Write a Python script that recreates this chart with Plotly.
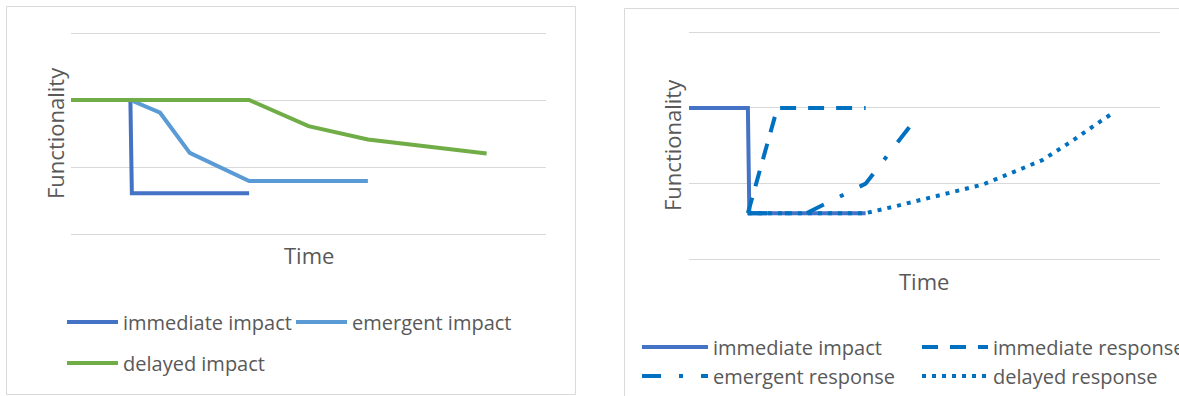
import plotly.graph_objects as go

W, H = 1179, 396

# ---------------- data ----------------
# left panel: impact types
imm_impact_x_left = [2, 2.05, 6]
imm_impact_y_left = [2, 0.61, 0.61]
emg_impact_x = [2, 3, 4, 6, 10]
emg_impact_y = [2, 1.81, 1.21, 0.79, 0.79]
del_impact_x = [0, 6, 8, 10, 14]
del_impact_y = [2, 2, 1.61, 1.41, 1.2]

# right panel: impact + response types
imm_impact_x = [0, 2, 2.05, 6]
imm_impact_y = [2, 2, 0.61, 0.61]
imm_resp_x = [2, 3, 6]
imm_resp_y = [0.61, 2, 2]
emg_resp_x = [2, 4, 6, 7.75]
emg_resp_y = [0.61, 0.61, 1.0, 1.88]
del_resp_x = [2, 6, 7, 8, 10, 12, 13, 14, 14.35]
del_resp_y = [0.61, 0.61, 0.70, 0.80, 0.99, 1.31, 1.56, 1.83, 1.92]

grid_vals = [0, 1, 2, 3]

# ---------------- style ----------------
FONT = "Open Sans"
GREY = "#595959"
GRID = "#D9D9D9"
C_DARK = "#4472C4"
C_LIGHT = "#5B9BD5"
C_GREEN = "#70AD47"
C_RESP = "#0070C0"
LW = 4
FS_LEG = 20
FS_TITLE = 22
PAD = 0.03  # small range padding so edge gridlines are kept


def px(x):
    return x / W


def py(y):
    return 1 - y / H


fig = go.Figure()

# left panel
fig.add_trace(go.Scatter(x=imm_impact_x_left, y=imm_impact_y_left, mode="lines", name="immediate impact",
                         line=dict(color=C_DARK, width=LW), xaxis="x", yaxis="y", legend="legend"))
fig.add_trace(go.Scatter(x=emg_impact_x, y=emg_impact_y, mode="lines", name="emergent impact",
                         line=dict(color=C_LIGHT, width=LW), xaxis="x", yaxis="y", legend="legend"))
fig.add_trace(go.Scatter(x=del_impact_x, y=del_impact_y, mode="lines", name="delayed impact",
                         line=dict(color=C_GREEN, width=LW), xaxis="x", yaxis="y", legend="legend2"))

# right panel
fig.add_trace(go.Scatter(x=imm_impact_x, y=imm_impact_y, mode="lines", name="immediate impact",
                         line=dict(color=C_DARK, width=LW), xaxis="x2", yaxis="y2", legend="legend3"))
fig.add_trace(go.Scatter(x=imm_resp_x, y=imm_resp_y, mode="lines", name="immediate response",
                         line=dict(color=C_RESP, width=LW, dash="16px,12px"), xaxis="x2", yaxis="y2",
                         legend="legend3"))
fig.add_trace(go.Scatter(x=emg_resp_x, y=emg_resp_y, mode="lines", name="emergent response",
                         line=dict(color=C_RESP, width=LW, dash="19px,18px,4px,18px"), xaxis="x2", yaxis="y2",
                         legend="legend4"))
fig.add_trace(go.Scatter(x=del_resp_x, y=del_resp_y, mode="lines", name="delayed response",
                         line=dict(color=C_RESP, width=LW, dash="4px,6px"), xaxis="x2", yaxis="y2",
                         legend="legend4"))

ax_common = dict(showgrid=False, zeroline=False, showline=False, showticklabels=False,
                 ticks="", fixedrange=True, range=[0, 16])
ay_common = dict(showgrid=True, gridcolor=GRID, gridwidth=1, zeroline=False, showline=False,
                 showticklabels=False, ticks="", fixedrange=True, range=[-PAD, 3 + PAD],
                 tickmode="array", tickvals=grid_vals)

legend_font = dict(family=FONT, size=FS_LEG, color=GREY)


def leg(text_x, row_y, spacing, itemw):
    textgap = itemw + 10
    return dict(orientation="h", x=px(text_x - textgap), xanchor="left",
                y=py(row_y), yanchor="middle", font=legend_font, itemwidth=itemw,
                entrywidth=spacing - textgap - 5, entrywidthmode="pixels", bgcolor="rgba(0,0,0,0)",
                borderwidth=0, itemclick=False, itemdoubleclick=False, traceorder="normal")


# plot-area pixel extents (gridline 0 and 3 positions, padded)
L_top, L_bot = 33, 234
R_top, R_bot = 32.3, 259.3
L_pad = PAD * (L_bot - L_top) / 3
R_pad = PAD * (R_bot - R_top) / 3

fig.update_layout(
    width=W, height=H,
    margin=dict(l=0, r=0, t=0, b=0, autoexpand=False),
    paper_bgcolor="white", plot_bgcolor="white",
    font=dict(family=FONT, size=FS_LEG, color=GREY),
    xaxis=dict(domain=[px(71), px(546)], anchor="y", **ax_common),
    yaxis=dict(domain=[py(L_bot + L_pad), py(L_top - L_pad)], anchor="x", **ay_common),
    xaxis2=dict(domain=[px(689), px(1160)], anchor="y2", **ax_common),
    yaxis2=dict(domain=[py(R_bot + R_pad), py(R_top - R_pad)], anchor="x2", **ay_common),
    legend=leg(123, 322, 229, 51),
    legend2=leg(123, 363, 229, 51),
    legend3=leg(713, 347, 280, 66),
    legend4=leg(713, 376, 280, 66),
    showlegend=True,
    shapes=[
        dict(type="rect", xref="paper", yref="paper", x0=px(6.5), x1=px(575.5), y0=py(394.5), y1=py(6.5),
             line=dict(color=GRID, width=1), fillcolor="rgba(0,0,0,0)", layer="below"),
        dict(type="rect", xref="paper", yref="paper", x0=px(624.5), x1=px(1190), y0=py(410), y1=py(8.5),
             line=dict(color=GRID, width=1), fillcolor="rgba(0,0,0,0)", layer="below"),
    ],
    annotations=[
        dict(text="Functionality", xref="paper", yref="paper", x=px(55), y=py(133), textangle=-90,
             showarrow=False, xanchor="center", yanchor="middle",
             font=dict(family=FONT, size=FS_TITLE, color=GREY)),
        dict(text="Time", xref="paper", yref="paper", x=px(309), y=py(255),
             showarrow=False, xanchor="center", yanchor="middle",
             font=dict(family=FONT, size=FS_TITLE, color=GREY)),
        dict(text="Functionality", xref="paper", yref="paper", x=px(672), y=py(145), textangle=-90,
             showarrow=False, xanchor="center", yanchor="middle",
             font=dict(family=FONT, size=FS_TITLE, color=GREY)),
        dict(text="Time", xref="paper", yref="paper", x=px(923.5), y=py(281),
             showarrow=False, xanchor="center", yanchor="middle",
             font=dict(family=FONT, size=FS_TITLE, color=GREY)),
    ],
)

fig.write_html("out.html", config={"displayModeBar": False},
               post_script="document.body.style.margin='0';")
